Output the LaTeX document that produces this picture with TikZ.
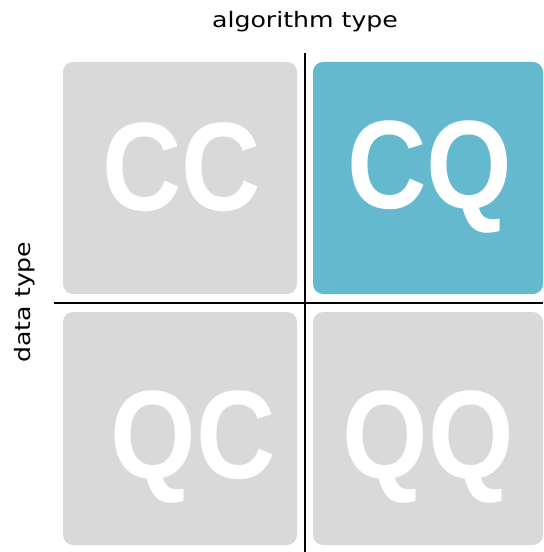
\documentclass[tikz,border=0pt]{standalone}
\usepackage{fontspec}
\setmainfont{DejaVu Sans}
\newfontfamily\bigfont{Liberation Sans}[UprightFont=* Bold]
\definecolor{boxgray}{HTML}{D9D9D9}
\definecolor{boxblue}{HTML}{65B9CE}
\newcommand{\bigtxt}[1]{\scalebox{0.875}[1]{\bigfont\fontsize{94.3pt}{95pt}\selectfont #1}}
\newcommand{\axtxt}[1]{\scalebox{1.18}[1]{\fontsize{16pt}{18pt}\selectfont #1}}
\begin{document}
\begin{tikzpicture}[x=0.75pt,y=-0.75pt,
  cell/.style={fill=#1,rounded corners=7.5pt},
  big/.style={text=white,anchor=base,inner sep=0pt},
  axislabel/.style={inner sep=0pt},
  axis/.style={line width=1.5pt,black}]
\useasboundingbox (0,0) rectangle (543,552);
\fill[cell=boxgray] (63,62) rectangle (297,294);
\fill[cell=boxblue] (313,62) rectangle (543,294);
\fill[cell=boxgray] (63,312) rectangle (297,545);
\fill[cell=boxgray] (313,312) rectangle (543,545);
\node[big] (cc) at (181.5,210) {\bigtxt{CC}};
\node[big] (cq) at (430,209) {\bigtxt{CQ}};
\node[big] (qc) at (193,478) {\bigtxt{QC}};
\node[big] (qq) at (428,478) {\bigtxt{QQ}};
\coordinate (vtop) at (305,53);
\coordinate (vbot) at (305,552);
\coordinate (hleft) at (54,303);
\coordinate (hright) at (543,303);
\draw[axis] (vtop) -- (vbot);
\draw[axis] (hleft) -- (hright);
\node[axislabel] (alg) at (305,22) {\axtxt{algorithm type}};
\node[axislabel,rotate=90] (data) at (25,302) {\axtxt{data type}};
\end{tikzpicture}
\end{document}
